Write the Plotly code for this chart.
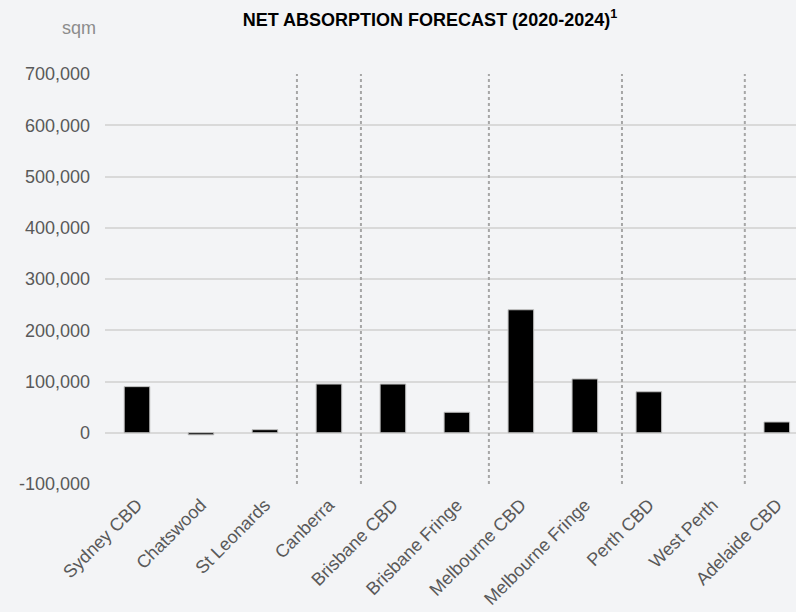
import plotly.graph_objects as go

categories = ["Sydney CBD", "Chatswood", "St Leonards", "Canberra", "Brisbane CBD",
              "Brisbane Fringe", "Melbourne CBD", "Melbourne Fringe", "Perth CBD",
              "West Perth", "Adelaide CBD"]
net_absorption = [90000, -4000, 6000, 95000, 95000, 40000, 240000, 105000, 80000, 0, 21000]
y_ticks = [-100000, 0, 100000, 200000, 300000, 400000, 500000, 600000, 700000]
y_tick_labels = ["-100,000", "0", "100,000", "200,000", "300,000", "400,000",
                 "500,000", "600,000", "700,000"]
divider_positions = [2.5, 3.5, 5.5, 7.58, 9.5]

FONT = "Arial, Liberation Sans, sans-serif"
BG = "#F3F4F6"

outline_widths = [0 if v == 0 else 1 for v in net_absorption]

fig = go.Figure()
fig.add_trace(go.Bar(
    x=list(range(len(categories))),
    y=net_absorption,
    width=0.4,
    marker=dict(color="#000000", line=dict(color="#BFBFBF", width=outline_widths)),
    showlegend=False,
))

for xp in divider_positions:
    fig.add_shape(type="line", xref="x", yref="y", x0=xp, x1=xp,
                  y0=-100000, y1=700000,
                  line=dict(color="#A6A6A6", width=2, dash="dot"), layer="above")

fig.update_layout(
    width=796, height=612,
    margin=dict(l=105, r=0, t=74, b=128),
    paper_bgcolor=BG, plot_bgcolor=BG,
    font=dict(family=FONT, size=18, color="#595959"),
    bargap=0.6,
    title=dict(text="<b>NET ABSORPTION FORECAST (2020-2024)<sup>1</sup></b>",
               x=430 / 796, xref="container", xanchor="center",
               y=1 - 19.5 / 612, yref="container", yanchor="middle",
               font=dict(family=FONT, size=18, color="#000000")),
    xaxis=dict(
        tickmode="array", tickvals=list(range(len(categories))), ticktext=categories,
        tickangle=-45, range=[-0.5, 10.3], showgrid=False, zeroline=False,
        showline=False, ticks="", ticklabelstandoff=6,
        tickfont=dict(family=FONT, size=18, color="#595959"),
    ),
    yaxis=dict(
        range=[-100000, 700000], tickmode="array", tickvals=y_ticks,
        ticktext=y_tick_labels, showgrid=True, gridcolor="#D9D9D9", gridwidth=1.5,
        zeroline=True, zerolinecolor="#D9D9D9", zerolinewidth=1.5,
        showline=False, ticks="", ticklabelstandoff=14,
        tickfont=dict(family=FONT, size=18, color="#595959"),
    ),
    annotations=[dict(text="sqm", xref="paper", yref="paper",
                      x=(79 - 105) / 691, y=1 + (74 - 28) / 410,
                      xanchor="center", yanchor="middle", showarrow=False,
                      font=dict(family=FONT, size=18, color="#8C8C8C"))],
)

fig.write_html("out.html")
